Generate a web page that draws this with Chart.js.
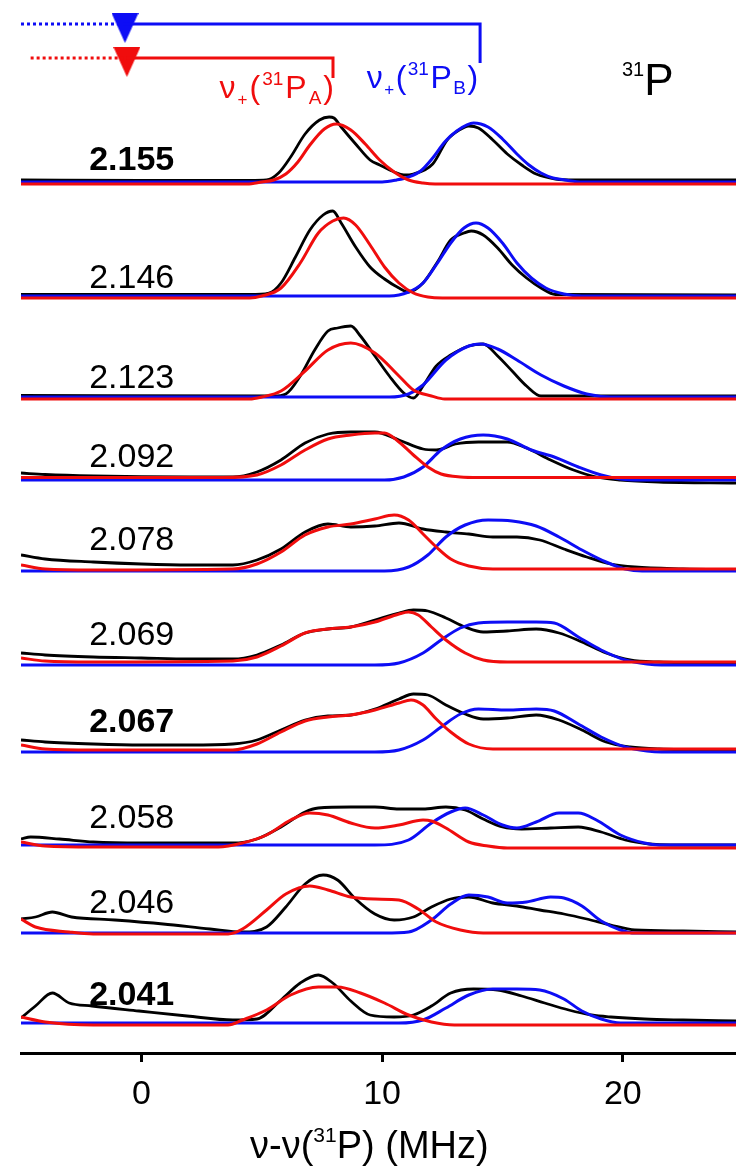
<!DOCTYPE html>
<html>
<head>
<meta charset="utf-8">
<script src="https://cdn.jsdelivr.net/npm/chart.js@4.4.1/dist/chart.umd.min.js"></script>
<style>
  html, body { margin: 0; padding: 0; background: #fff; }
  canvas { display: block; }
</style>
</head>
<body>
<canvas id="endor" width="736" height="1169"></canvas>
<script>
// 31P ENDOR spectra at several g values, experiment (black) with P_A (red) and P_B (blue) fits.

const gValues = ["2.155", "2.146", "2.123", "2.092", "2.078", "2.069", "2.067", "2.058", "2.046", "2.041"];
const boldG = ["2.155", "2.067", "2.041"];
const xTicks = [0, 10, 20];

// nu+ markers (MHz): start of the dotted part, triangle, bracket end
const markerA = [-4.6, -0.6, 7.96];
const markerB = [-5.0, -0.68, 14.07];

// [MHz, intensity] pairs, intensity in plot units above each spectrum's baseline
const exp2155 = [[-5,2],[0,1.5],[4.5,1.5],[5.2,2],[5.7,9],[6.2,25],[6.8,48],[7.4,62],[7.8,65],[8.0,64],[8.3,55],[8.9,38],[9.5,22],[9.9,17],[10.5,10],[10.9,7],[11.3,8],[12.1,18],[12.7,42],[13.2,52],[13.6,56],[14.0,54],[14.6,42],[15.2,28],[15.8,17],[16.4,8],[17.2,3],[18,2],[24.7,2]];
const fitA2155 = [[-5,-2],[4.4,-2],[5.0,0],[5.5,2],[6.0,8],[6.5,20],[7.0,37],[7.6,53],[8.1,58],[8.7,52],[9.3,38],[9.9,22],[10.5,10],[11.1,2],[11.7,-1],[12.2,-2],[24.7,-2]];
const fitB2155 = [[-5,0],[10.0,0],[10.6,2],[11.1,5],[11.6,11],[12.1,24],[12.6,40],[13.1,51],[13.8,59],[14.4,55],[15.0,43],[15.6,28],[16.1,17],[16.6,9],[17.1,4],[17.6,2],[18.3,0],[24.7,0]];

const exp2146 = [[-5,1.5],[4.5,1.5],[5.3,3],[5.8,13],[6.4,39],[7.0,66],[7.55,81],[7.95,85],[8.3,73],[8.9,49],[9.5,29],[10.1,17],[10.7,8],[11.1,4],[11.7,13],[12.3,34],[12.85,56],[13.4,63],[13.7,65],[14.2,61],[14.8,48],[15.4,31],[16.0,18],[16.6,8],[17.2,1.5],[24.7,1]];
const fitA2146 = [[-5,-2],[4.5,-2],[5.0,0],[5.8,8],[6.6,33],[7.35,63],[7.95,75],[8.4,78],[8.9,71],[9.5,51],[10.1,29],[10.7,13],[11.3,3],[11.9,-1],[12.5,-2],[24.7,-2]];
const fitB2146 = [[-5,0],[10.3,0],[11.1,4],[11.7,13],[12.3,33],[12.85,53],[13.4,68],[13.9,73],[14.4,68],[15.0,53],[15.6,33],[16.2,18],[16.8,8],[17.55,2],[18.3,0],[24.7,0]];

const exp2123 = [[-5,1.5],[5.5,1],[6.0,3],[6.6,21],[7.2,47],[7.75,66],[8.15,69],[8.7,71],[9.1,61],[9.7,41],[10.3,21],[10.9,4],[11.3,-1],[11.7,11],[12.25,31],[12.85,42],[13.6,51],[14.2,53],[14.8,41],[15.4,26],[16.0,11],[16.6,1],[24.7,1]];
const fitA2123 = [[-5,-2],[4.5,-2],[5.0,0],[5.8,6],[6.8,26],[7.75,47],[8.7,54],[9.7,44],[10.7,21],[11.3,7],[12.05,1],[12.6,-2],[24.7,-2]];
const fitB2123 = [[-5,0],[10.3,0],[11.1,3],[11.7,12],[12.65,37],[13.6,51],[14.1,53],[14.8,48],[15.6,37],[16.6,22],[17.55,11],[18.5,3],[19.5,0],[24.7,0]];

const exp2092 = [[-5,7],[-4,5.5],[-2,4],[2,3],[3.8,3],[4.8,8],[5.8,20],[6.8,37],[7.75,46],[8.7,48],[9.7,48],[10.7,40],[11.7,31],[12.25,30],[13.05,36],[14.0,38],[15.2,38],[16.0,32],[17.0,20],[17.95,10],[18.9,3],[19.9,0],[21.5,-2],[24.7,-3]];
const fitA2092 = [[-5,2.5],[3.4,2.5],[4.8,5],[5.8,15],[6.8,30],[7.75,41],[8.7,45],[9.7,47],[10.1,47],[10.7,38],[11.3,25],[11.9,13],[12.45,6],[13.25,3],[14,2.5],[24.7,2.5]];
const fitB2092 = [[-5,0],[10.1,0],[10.9,3],[11.7,13],[12.45,30],[13.25,41],[14.2,45],[15.2,41],[16.2,30],[17.15,23],[18.15,13],[19.1,5],[19.9,1],[20.5,0],[24.7,0]];

const exp2078 = [[-5,16],[-4,12],[-2,9],[0,7],[2,6],[3.8,6],[4.8,11],[5.8,22],[6.8,39],[7.75,47],[8.7,44],[9.7,45],[10.7,48],[11.7,42],[12.65,39],[13.6,37],[14.6,34],[15.6,34],[16.55,31],[17.55,22],[18.5,14],[19.5,7],[20.5,4],[22.5,2],[24.7,1]];
const fitA2078 = [[-5,6],[-4,2],[-2,1],[3.8,2],[4.8,7],[5.8,19],[6.8,36],[7.75,44],[8.7,47],[9.7,52],[10.5,56],[11.1,51],[11.7,37],[12.25,24],[12.85,12],[13.6,5],[14.6,2],[24.7,2]];
const fitB2078 = [[-5,0],[10.1,0],[11.1,4],[11.9,16],[12.65,34],[13.45,46],[14.4,51],[15.4,50],[16.4,45],[17.35,34],[18.3,21],[19.3,9],[20.1,2],[20.8,0],[24.7,0]];

const exp2069 = [[-5,12],[-4,10],[-2,8],[0,7],[2,6],[3.8,6],[4.8,10],[5.8,20],[6.8,32],[7.75,36],[8.7,38],[9.7,45],[10.7,52],[11.3,55],[11.9,54],[12.65,47],[13.45,38],[14.2,33],[15.2,34],[16.4,36],[17.35,32],[18.3,23],[19.3,12],[20.3,5],[21.5,3],[24.7,2]];
const fitA2069 = [[-5,7],[-4,4],[-2,3],[3.8,4],[4.8,8],[5.8,19],[6.8,32],[7.75,36],[8.7,38],[9.7,43],[10.7,51],[11.1,53],[11.5,50],[12.05,38],[12.65,25],[13.45,12],[14.2,5],[15.2,3],[24.7,3]];
const fitB2069 = [[-5,0],[9.7,0],[10.7,2],[11.7,12],[12.45,25],[13.25,37],[14.0,42],[15.2,43],[16.4,43],[17.15,42],[18.15,28],[19.1,15],[20.1,5],[21.0,1],[21.6,0],[24.7,0]];

const exp2067 = [[-5,12],[-4,10],[-2,8],[0,7],[2,7],[3.8,8],[4.8,12],[5.8,22],[6.8,32],[7.75,36],[8.7,37],[9.7,43],[10.7,53],[11.3,58],[11.9,57],[12.65,47],[13.45,38],[14.2,33],[15.2,34],[16.4,37],[17.35,32],[18.3,22],[19.3,10],[20.3,5],[21.5,3],[24.7,2]];
const fitA2067 = [[-5,7],[-4,3],[-2,2],[3.8,2],[4.8,8],[5.8,20],[6.8,31],[7.75,35],[8.7,37],[9.7,42],[10.7,49],[11.2,52],[11.7,47],[12.25,33],[12.85,20],[13.6,8],[14.6,3],[24.7,3]];
const fitB2067 = [[-5,0],[9.7,0],[10.7,2],[11.7,12],[12.45,25],[13.25,38],[14.0,43],[15.2,42],[16.4,43],[17.15,41],[18.15,28],[19.1,15],[20.1,5],[21.0,1],[21.6,0],[24.7,0]];

const exp2058 = [[-5,6],[-4.6,8],[-3.4,6],[-2,3],[0,2],[3.8,2],[4.8,6],[5.8,18],[6.8,33],[7.35,37],[8.7,38],[9.7,38],[10.7,36],[11.7,36],[12.65,38],[13.45,35],[14.2,26],[15.0,18],[15.8,16],[17.0,17],[18.15,18],[19.1,13],[20.1,5],[21.1,1],[22,0],[24.7,0]];
const fitA2058 = [[-5,3],[-4,-1],[-2,-2],[3.2,-2],[4.2,2],[5.2,10],[6.2,25],[7.0,32],[7.75,30],[8.7,22],[9.7,17],[10.7,20],[11.7,25],[12.05,24],[12.65,17],[13.6,3],[14.4,-1],[15.2,-3],[24.7,-3]];
const fitB2058 = [[-5,0],[9.7,0],[11.1,5],[12.05,22],[12.85,33],[13.45,37],[14.2,30],[15.0,20],[15.6,17],[16.4,23],[17.35,32],[18.15,32],[18.9,25],[19.9,10],[20.9,2],[21.5,0],[24.7,0]];

const exp2046 = [[-5,14],[-4.4,16],[-3.7,21],[-2.9,16],[-1.1,13],[0.9,9],[2.85,4],[4.2,1],[5.2,6],[6.0,26],[6.8,49],[7.55,58],[8.15,53],[8.9,34],[9.7,19],[10.5,13],[11.3,16],[12.05,26],[12.85,34],[13.6,36],[14.6,30],[15.6,27],[16.55,23],[17.55,19],[18.5,14],[19.5,8],[20.5,3],[22.5,2],[24.7,1]];
const fitA2046 = [[-5,14],[-4.4,6],[-3.0,1],[-2,-1],[3.6,-1],[4.2,4],[5.2,23],[6.0,39],[7.0,47],[7.75,43],[8.7,36],[9.7,34],[10.7,33],[11.5,24],[12.25,11],[13.25,3],[14.2,0],[24.7,0]];
const fitB2046 = [[-5,0],[10.1,0],[11.1,1],[12.05,13],[12.85,29],[13.6,38],[14.4,36],[15.2,30],[16.0,31],[17.0,36],[17.55,35],[18.3,27],[19.1,12],[19.9,3],[20.5,0],[24.7,0]];

const exp2041 = [[-5,5],[-4.4,17],[-3.7,30],[-3.0,20],[-2.05,17],[-0.1,12],[1.9,7],[3.8,3],[4.8,4],[5.8,23],[6.6,40],[7.35,48],[7.95,40],[8.7,22],[9.5,8],[10.5,6],[11.3,8],[12.05,17],[12.85,30],[13.8,34],[14.8,33],[15.8,27],[16.75,20],[17.75,13],[18.7,8],[19.5,6],[20.9,4],[22.5,3],[24.7,2]];
const fitA2041 = [[-5,6],[-4,1],[-2,-2],[3.6,-2],[4.2,3],[5.2,13],[6.2,28],[7.35,36],[8.15,36],[9.1,30],[10.1,20],[11.1,8],[12.05,1],[13,-2],[24.7,-2]];
const fitB2041 = [[-5,0],[10.7,0],[11.7,3],[12.65,15],[13.6,28],[14.6,34],[15.6,34],[16.55,33],[17.55,24],[18.3,12],[19.1,4],[19.9,0],[24.7,0]];

const expSpectra = [exp2155, exp2146, exp2123, exp2092, exp2078, exp2069, exp2067, exp2058, exp2046, exp2041];
const fitsA = [fitA2155, fitA2146, fitA2123, fitA2092, fitA2078, fitA2069, fitA2067, fitA2058, fitA2046, fitA2041];
const fitsB = [fitB2155, fitB2146, fitB2123, fitB2092, fitB2078, fitB2069, fitB2067, fitB2058, fitB2046, fitB2041];

// layout: vertical stacking (pixels from top) and label lift above each baseline
const AXIS_Y = 1053;
const baselinePx = [182, 296, 397, 480, 571, 665, 752, 845, 933, 1023];
const labelLift = [12, 8, 9, 13, 21, 20, 20, 17, 20, 18];
const levelB = AXIS_Y - 24, levelBEnd = AXIS_Y - 63;
const levelA = AXIS_Y - 58, levelAEnd = AXIS_Y - 78;

const FONT = "'Liberation Sans', Arial, sans-serif";
const RED = "#f00d0d";
const BLUE = "#0d0df5";
const BLACK = "#000";

function shift(points, base) {
  return points.map(([x, h]) => ({ x, y: base + h }));
}

function triangle(color) {
  const c = document.createElement("canvas");
  c.width = 27;
  c.height = 30;
  const g = c.getContext("2d");
  g.fillStyle = color;
  g.beginPath();
  g.moveTo(0, 0);
  g.lineTo(27, 0);
  g.lineTo(13.5, 30);
  g.closePath();
  g.fill();
  return c;
}

const line = (color, data, order, extra) => Object.assign({
  data, borderColor: color, borderWidth: 3, pointRadius: 0,
  fill: false, order, tension: 0,
}, extra || {});

const datasets = [];
gValues.forEach((g, i) => {
  const base = AXIS_Y - baselinePx[i];
  datasets.push(line(RED, shift(fitsA[i], base), 0, { cubicInterpolationMode: "monotone" }));
  datasets.push(line(BLUE, shift(fitsB[i], base), 1, { cubicInterpolationMode: "monotone" }));
  datasets.push(line(BLACK, shift(expSpectra[i], base), 2, { borderWidth: 2.8, cubicInterpolationMode: "monotone" }));
});

// nu+ brackets
datasets.push(line(BLUE, [{ x: markerB[0], y: levelB }, { x: markerB[1], y: levelB }], 0, { borderDash: [3, 3] }));
datasets.push(line(BLUE, [{ x: markerB[1], y: levelB }, { x: markerB[2], y: levelB }, { x: markerB[2], y: levelBEnd }], 0));
datasets.push(line(RED, [{ x: markerA[0], y: levelA }, { x: markerA[1], y: levelA }], 0, { borderDash: [3, 3] }));
datasets.push(line(RED, [{ x: markerA[1], y: levelA }, { x: markerA[2], y: levelA }, { x: markerA[2], y: levelAEnd }], 0));
datasets.push({ data: [{ x: markerB[1], y: levelB - 4 }], showLine: false, pointStyle: triangle(BLUE), pointRadius: 14, order: 0 });
datasets.push({ data: [{ x: markerA[1], y: levelA - 4 }], showLine: false, pointStyle: triangle(RED), pointRadius: 14, order: 0 });

function drawRich(ctx, parts, x, y, align, gap) {
  const g = gap || 0;
  let w = 0;
  for (const p of parts) {
    ctx.font = `${p.weight || "normal"} ${p.size}px ${FONT}`;
    w += ctx.measureText(p.text).width + g;
  }
  w -= g;
  let cx = align === "right" ? x - w : align === "center" ? x - w / 2 : x;
  for (const p of parts) {
    ctx.font = `${p.weight || "normal"} ${p.size}px ${FONT}`;
    ctx.fillText(p.text, cx, y + (p.dy || 0));
    cx += ctx.measureText(p.text).width + g;
  }
}

const nuLabel = (site) => [
  { text: "\u03bd", size: 32 },
  { text: "+", size: 17, dy: 7 },
  { text: "(", size: 32 },
  { text: "31", size: 19, dy: -13 },
  { text: "P", size: 32 },
  { text: site, size: 19, dy: 6 },
  { text: ")", size: 32 },
];

const annotations = {
  id: "annotations",
  afterDraw(chart) {
    const { ctx, scales } = chart;
    const xs = scales.x, ys = scales.y;
    ctx.save();
    ctx.textBaseline = "alphabetic";
    ctx.fillStyle = BLACK;
    gValues.forEach((g, i) => {
      const y = ys.getPixelForValue(AXIS_Y - baselinePx[i] + labelLift[i]);
      const weight = boldG.includes(g) ? "bold" : "normal";
      drawRich(ctx, [{ text: g, size: 34, weight }], xs.getPixelForValue(-0.4), y, "center");
    });
    ctx.fillStyle = RED;
    drawRich(ctx, nuLabel("A"), xs.getPixelForValue(markerA[2]) + 1, ys.getPixelForValue(AXIS_Y - 98), "right", 2);
    ctx.fillStyle = BLUE;
    drawRich(ctx, nuLabel("B"), xs.getPixelForValue(markerB[2]) - 2, ys.getPixelForValue(AXIS_Y - 88), "right", 1.5);
    ctx.fillStyle = BLACK;
    drawRich(ctx, [{ text: "31", size: 20, dy: -19 }, { text: "P", size: 44 }], 622, 95, "left");
    drawRich(ctx, [
      { text: "\u03bd-\u03bd(", size: 38 },
      { text: "31", size: 21, dy: -16 },
      { text: "P) (MHz)", size: 38 },
    ], 250, 1158, "left");
    ctx.restore();
  },
};

new Chart(document.getElementById("endor"), {
  type: "line",
  data: { datasets },
  options: {
    responsive: false,
    devicePixelRatio: 1,
    animation: false,
    events: [],
    layout: { autoPadding: false, padding: { left: 21, right: 0, top: 0, bottom: 0 } },
    plugins: { legend: { display: false }, tooltip: { enabled: false } },
    scales: {
      x: {
        type: "linear",
        min: -5.0,
        max: 24.7,
        afterBuildTicks: (s) => { s.ticks = xTicks.map((v) => ({ value: v })); },
        afterFit: (s) => { s.height = 116; },
        ticks: { font: { family: FONT, size: 34 }, color: BLACK, padding: 12, maxRotation: 0 },
        grid: { drawOnChartArea: false, tickLength: 9, tickWidth: 3, tickColor: BLACK },
        border: { display: true, color: BLACK, width: 3 },
        title: { display: false },
      },
      y: { display: false, min: 0, max: AXIS_Y },
    },
  },
  plugins: [annotations],
});
</script>
</body>
</html>
